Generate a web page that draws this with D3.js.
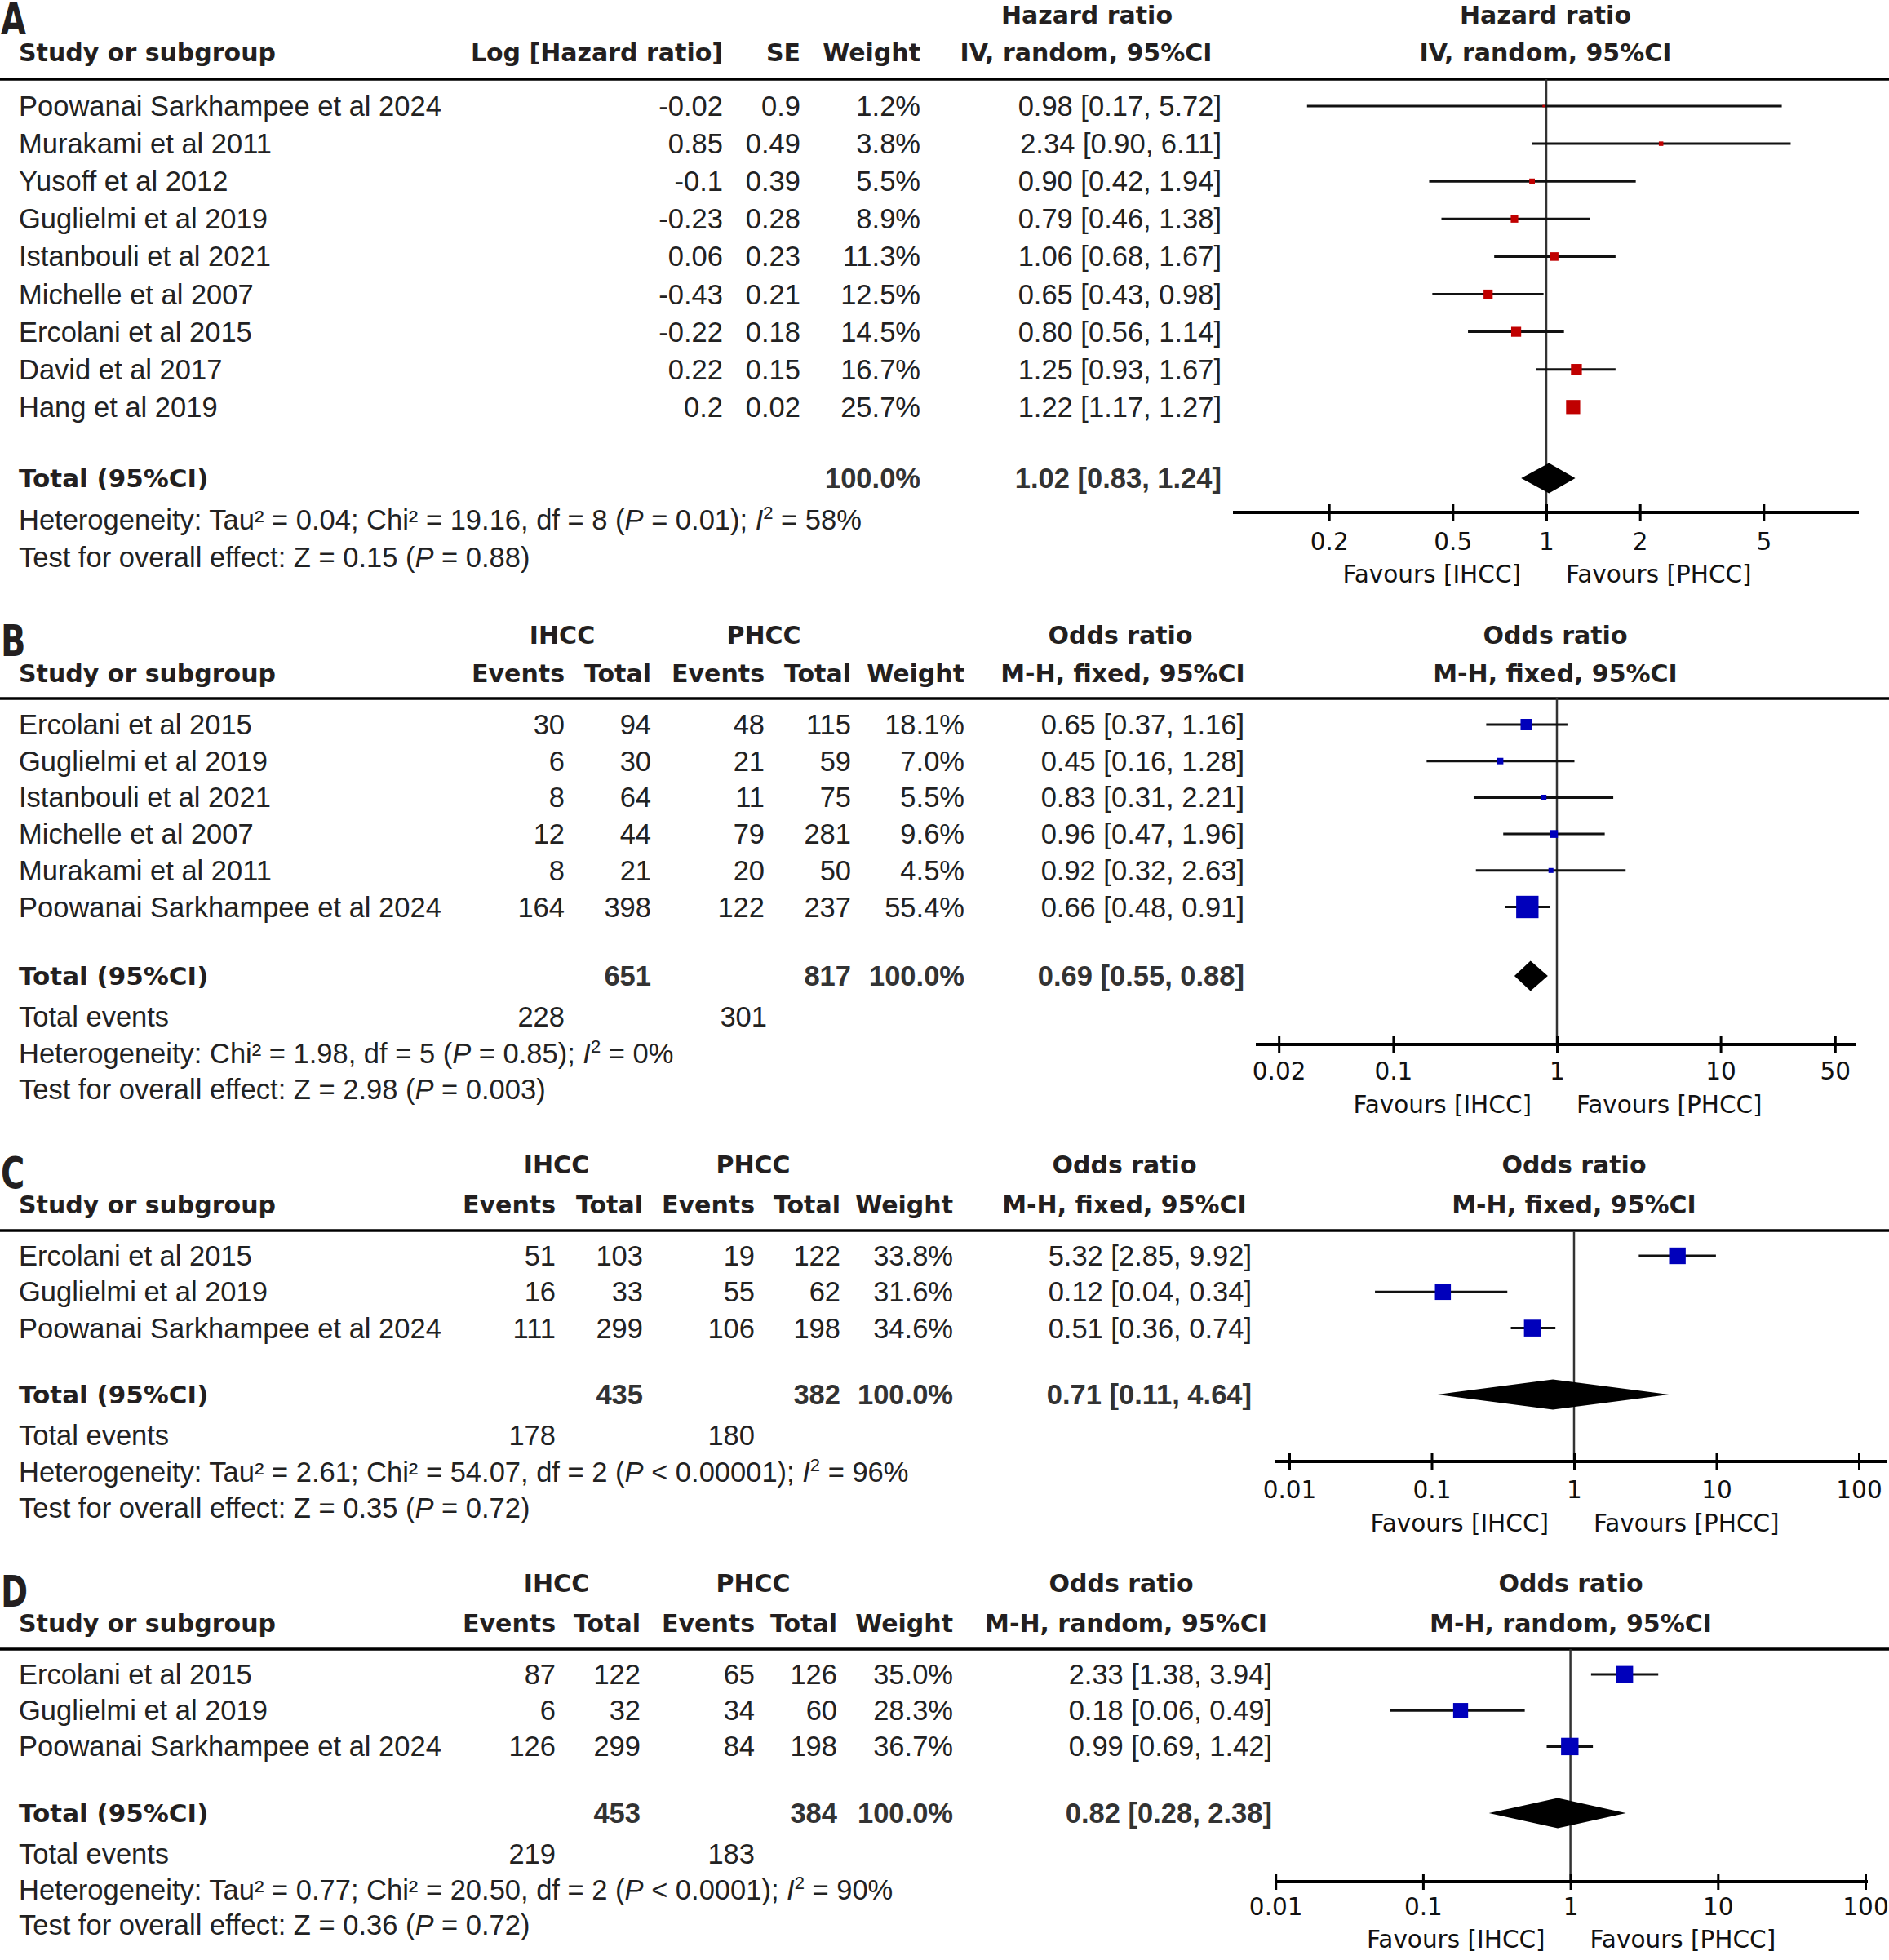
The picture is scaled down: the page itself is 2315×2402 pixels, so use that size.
<!DOCTYPE html>
<html>
<head>
<meta charset="utf-8">
<script src="https://cdn.jsdelivr.net/npm/d3@7"></script>
<style>
  body { margin: 0; background: #fff; }
  svg { display: block; }
  .bd { font-family: "Liberation Sans", Arial, sans-serif; font-size: 34.5px; fill: #222; }
  .bb { font-family: "Liberation Sans", Arial, sans-serif; font-size: 34.5px; font-weight: bold; fill: #333; }
  .hd { font-family: "DejaVu Sans", Verdana, sans-serif; font-size: 30px; font-weight: bold; fill: #231f20; }
  .tk { font-family: "DejaVu Sans", Verdana, sans-serif; font-size: 29.5px; fill: #111; }
</style>
</head>
<body>
<svg id="fig" width="2315" height="2402"></svg>
<script>
// A: overall survival, hazard ratio
const studiesA = ["Poowanai Sarkhampee et al 2024", "Murakami et al 2011", "Yusoff et al 2012", "Guglielmi et al 2019",
  "Istanbouli et al 2021", "Michelle et al 2007", "Ercolani et al 2015", "David et al 2017", "Hang et al 2019"];
const logHrA = [-0.02, 0.85, -0.1, -0.23, 0.06, -0.43, -0.22, 0.22, 0.2];
const seA = [0.9, 0.49, 0.39, 0.28, 0.23, 0.21, 0.18, 0.15, 0.02];
const weightA = [1.2, 3.8, 5.5, 8.9, 11.3, 12.5, 14.5, 16.7, 25.7];
const hrA = [0.98, 2.34, 0.90, 0.79, 1.06, 0.65, 0.80, 1.25, 1.22];
const hrLowA = [0.17, 0.90, 0.42, 0.46, 0.68, 0.43, 0.56, 0.93, 1.17];
const hrHighA = [5.72, 6.11, 1.94, 1.38, 1.67, 0.98, 1.14, 1.67, 1.27];
const totalA = [1.02, 0.83, 1.24];
const ticksA = [0.2, 0.5, 1, 2, 5];
const hetA = "Heterogeneity: Tau² = 0.04; Chi² = 19.16, df = 8 (*P* = 0.01); *I*^2^ = 58%";
const testA = "Test for overall effect: Z = 0.15 (*P* = 0.88)";

// B
const studiesB = ["Ercolani et al 2015", "Guglielmi et al 2019", "Istanbouli et al 2021", "Michelle et al 2007",
  "Murakami et al 2011", "Poowanai Sarkhampee et al 2024"];
const ihccEventsB = [30, 6, 8, 12, 8, 164];
const ihccTotalB = [94, 30, 64, 44, 21, 398];
const phccEventsB = [48, 21, 11, 79, 20, 122];
const phccTotalB = [115, 59, 75, 281, 50, 237];
const weightB = [18.1, 7.0, 5.5, 9.6, 4.5, 55.4];
const orB = [0.65, 0.45, 0.83, 0.96, 0.92, 0.66];
const orLowB = [0.37, 0.16, 0.31, 0.47, 0.32, 0.48];
const orHighB = [1.16, 1.28, 2.21, 1.96, 2.63, 0.91];
const totalB = [0.69, 0.55, 0.88];
const sumTotalsB = [651, 817];
const sumEventsB = [228, 301];
const ticksB = [0.02, 0.1, 1, 10, 50];
const hetB = "Heterogeneity: Chi² = 1.98, df = 5 (*P* = 0.85); *I*^2^ = 0%";
const testB = "Test for overall effect: Z = 2.98 (*P* = 0.003)";

// C
const studiesC = ["Ercolani et al 2015", "Guglielmi et al 2019", "Poowanai Sarkhampee et al 2024"];
const ihccEventsC = [51, 16, 111];
const ihccTotalC = [103, 33, 299];
const phccEventsC = [19, 55, 106];
const phccTotalC = [122, 62, 198];
const weightC = [33.8, 31.6, 34.6];
const orC = [5.32, 0.12, 0.51];
const orLowC = [2.85, 0.04, 0.36];
const orHighC = [9.92, 0.34, 0.74];
const totalC = [0.71, 0.11, 4.64];
const sumTotalsC = [435, 382];
const sumEventsC = [178, 180];
const ticksC = [0.01, 0.1, 1, 10, 100];
const hetC = "Heterogeneity: Tau² = 2.61; Chi² = 54.07, df = 2 (*P* < 0.00001); *I*^2^ = 96%";
const testC = "Test for overall effect: Z = 0.35 (*P* = 0.72)";

// D
const studiesD = ["Ercolani et al 2015", "Guglielmi et al 2019", "Poowanai Sarkhampee et al 2024"];
const ihccEventsD = [87, 6, 126];
const ihccTotalD = [122, 32, 299];
const phccEventsD = [65, 34, 84];
const phccTotalD = [126, 60, 198];
const weightD = [35.0, 28.3, 36.7];
const orD = [2.33, 0.18, 0.99];
const orLowD = [1.38, 0.06, 0.69];
const orHighD = [3.94, 0.49, 1.42];
const totalD = [0.82, 0.28, 2.38];
const sumTotalsD = [453, 384];
const sumEventsD = [219, 183];
const ticksD = [0.01, 0.1, 1, 10, 100];
const hetD = "Heterogeneity: Tau² = 0.77; Chi² = 20.50, df = 2 (*P* < 0.0001); *I*^2^ = 90%";
const testD = "Test for overall effect: Z = 0.36 (*P* = 0.72)";

const svg = d3.select("#fig");
const W = 2315;
const f2 = d3.format(".2f");
const pct = w => d3.format(".1f")(w) + "%";
const ciText = (e, l, h) => `${f2(e)} [${f2(l)}, ${f2(h)}]`;
// box side grows a bit faster than sqrt(weight), like RevMan output
const boxSize = d3.scalePow().exponent(0.6).domain([0, 100]).range([0, 39]);

// *x* -> italic, ^x^ -> superscript
function rich(sel, str) {
  const parts = str.split(/(\*[^*]+\*|\^[^^]+\^)/).filter(s => s);
  let up = false;
  parts.forEach(p => {
    if (p[0] === "*") {
      const t = sel.append("tspan").style("font-style", "italic").text(p.slice(1, -1));
      if (up) { t.attr("dy", 13); up = false; }
    } else if (p[0] === "^") {
      sel.append("tspan").attr("dy", -13).style("font-size", "22px").text(p.slice(1, -1));
      up = true;
    } else {
      const t = sel.append("tspan").text(p);
      if (up) { t.attr("dy", 13); up = false; }
    }
  });
}

function drawPanel(p) {
  const g = svg.append("g");
  const rowY = i => p.rowY0 + i * p.rowStep;

  g.append("text").attr("class", "hd")
    .attr("transform", `translate(1,${p.letterY}) scale(0.74,1)`)
    .attr("dy", "0.36em").style("font-size", "54px").text(p.letter);

  // column headers
  g.selectAll(".h1").data(p.head1).join("text").attr("class", "hd")
    .attr("x", d => d[1]).attr("y", p.head1Y).attr("dy", "0.36em")
    .attr("text-anchor", d => d[2]).text(d => d[0]);
  g.selectAll(".h2").data([["Study or subgroup", 23, "start"]].concat(p.head2)).join("text").attr("class", "hd")
    .attr("x", d => d[1]).attr("y", p.head2Y).attr("dy", "0.36em")
    .attr("text-anchor", d => d[2]).text(d => d[0]);
  g.append("line").attr("x1", 0).attr("x2", W).attr("y1", p.lineY).attr("y2", p.lineY)
    .attr("stroke", "#000").attr("stroke-width", 3.5);

  // study rows
  g.selectAll(".study").data(p.studies).join("text").attr("class", "bd")
    .attr("x", 23).attr("y", (d, i) => rowY(i)).attr("dy", "0.35em").text(d => d);
  p.cols.forEach(([vals, x]) => {
    g.append("g").selectAll("text").data(vals).join("text").attr("class", "bd")
      .attr("x", x).attr("y", (d, i) => rowY(i)).attr("dy", "0.35em")
      .attr("text-anchor", "end").text(d => d);
  });

  // total row
  g.append("text").attr("class", "hd").attr("x", 23).attr("y", p.totalY).attr("dy", "0.36em")
    .style("font-size", "31px").text("Total (95%CI)");
  g.selectAll(".tot").data(p.totalCells).join("text").attr("class", "bb")
    .attr("x", d => d[1]).attr("y", p.totalY).attr("dy", "0.35em")
    .attr("text-anchor", "end").text(d => d[0]);

  if (p.events) {
    g.append("text").attr("class", "bd").attr("x", 23).attr("y", p.eventsY).attr("dy", "0.35em").text("Total events");
    g.selectAll(".ev").data(p.events).join("text").attr("class", "bd")
      .attr("x", d => d[1]).attr("y", p.eventsY).attr("dy", "0.35em")
      .attr("text-anchor", "end").text(d => d[0]);
  }
  rich(g.append("text").attr("class", "bd").attr("x", 23).attr("y", p.hetY).attr("dy", "0.35em"), p.het);
  rich(g.append("text").attr("class", "bd").attr("x", 23).attr("y", p.testY).attr("dy", "0.35em"), p.test);

  // forest plot
  const x = d3.scaleLog().domain([0.01, 100]).range([p.xOne - 2 * p.dec, p.xOne + 2 * p.dec]);
  const n = p.est.length;

  g.append("line").attr("x1", x(1)).attr("x2", x(1)).attr("y1", p.lineY).attr("y2", p.axisY)
    .attr("stroke", "#333").attr("stroke-width", 2.5);

  g.append("g").selectAll("line").data(d3.range(n)).join("line")
    .attr("x1", i => x(p.lo[i])).attr("x2", i => x(p.hi[i]))
    .attr("y1", i => rowY(i)).attr("y2", i => rowY(i))
    .attr("stroke", "#111").attr("stroke-width", 3);

  g.append("g").selectAll("rect").data(d3.range(n)).join("rect")
    .attr("x", i => x(p.est[i]) - boxSize(p.weight[i]) / 2)
    .attr("y", i => rowY(i) - boxSize(p.weight[i]) / 2)
    .attr("width", i => boxSize(p.weight[i])).attr("height", i => boxSize(p.weight[i]))
    .attr("fill", p.color);

  const [te, tl, th] = p.total;
  const hh = 18.5;
  g.append("path")
    .attr("d", `M${x(tl)},${p.totalY}L${x(te)},${p.totalY - hh}L${x(th)},${p.totalY}L${x(te)},${p.totalY + hh}Z`)
    .attr("fill", "#000");

  // axis
  const ax = g.append("g").attr("transform", `translate(0,${p.axisY})`)
    .call(d3.axisBottom(x).tickValues(p.ticks).tickFormat(d => String(d)).tickSize(10));
  ax.select(".domain").remove();
  ax.attr("font-family", null).attr("font-size", null);
  ax.selectAll(".tick line").attr("y1", -10).attr("y2", 10).attr("stroke", "#000").attr("stroke-width", 3);
  ax.selectAll(".tick text").attr("class", "tk").attr("y", p.tickY - p.axisY).attr("dy", "0.36em");
  ax.insert("line", ":first-child").attr("x1", p.axisX[0]).attr("x2", p.axisX[1])
    .attr("stroke", "#000").attr("stroke-width", 4);

  g.append("text").attr("class", "tk").attr("x", x(1) - 31).attr("y", p.favY).attr("dy", "0.36em")
    .attr("text-anchor", "end").text("Favours [IHCC]");
  g.append("text").attr("class", "tk").attr("x", x(1) + 24).attr("y", p.favY).attr("dy", "0.36em")
    .attr("text-anchor", "start").text("Favours [PHCC]");
}

drawPanel({
  letter: "A", letterY: 23,
  head1Y: 18, head2Y: 64, lineY: 97,
  head1: [["Hazard ratio", 1332, "middle"], ["Hazard ratio", 1894, "middle"]],
  head2: [["Log [Hazard ratio]", 886, "end"], ["SE", 981, "end"], ["Weight", 1128, "end"],
    ["IV, random, 95%CI", 1331, "middle"], ["IV, random, 95%CI", 1894, "middle"]],
  rowY0: 130, rowStep: 46.1,
  studies: studiesA,
  cols: [[logHrA.map(String), 886], [seA.map(String), 981], [weightA.map(pct), 1128],
    [hrA.map((e, i) => ciText(e, hrLowA[i], hrHighA[i])), 1497]],
  totalY: 586,
  totalCells: [["100.0%", 1128], [ciText(...totalA), 1497]],
  hetY: 637, testY: 683, het: hetA, test: testA,
  est: hrA, lo: hrLowA, hi: hrHighA, weight: weightA, color: "#c00000", total: totalA,
  xOne: 1895, dec: 381, axisX: [1511, 2278], axisY: 628, tickY: 663, favY: 703, ticks: ticksA
});

drawPanel({
  letter: "B", letterY: 785,
  head1Y: 778, head2Y: 825, lineY: 856,
  head1: [["IHCC", 689, "middle"], ["PHCC", 936, "middle"], ["Odds ratio", 1373, "middle"], ["Odds ratio", 1906, "middle"]],
  head2: [["Events", 692, "end"], ["Total", 798, "end"], ["Events", 937, "end"], ["Total", 1043, "end"],
    ["Weight", 1182, "end"], ["M-H, fixed, 95%CI", 1376, "middle"], ["M-H, fixed, 95%CI", 1906, "middle"]],
  rowY0: 888, rowStep: 44.7,
  studies: studiesB,
  cols: [[ihccEventsB, 692], [ihccTotalB, 798], [phccEventsB, 937], [phccTotalB, 1043], [weightB.map(pct), 1182],
    [orB.map((e, i) => ciText(e, orLowB[i], orHighB[i])), 1525]],
  totalY: 1196,
  totalCells: [[sumTotalsB[0], 798], [sumTotalsB[1], 1043], ["100.0%", 1182], [ciText(...totalB), 1525]],
  events: [[sumEventsB[0], 692], [sumEventsB[1], 940]], eventsY: 1246,
  hetY: 1291, testY: 1335, het: hetB, test: testB,
  est: orB, lo: orLowB, hi: orHighB, weight: weightB, color: "#0000bb", total: totalB,
  xOne: 1908, dec: 200.6, axisX: [1539, 2274], axisY: 1280, tickY: 1312, favY: 1353, ticks: ticksB
});

drawPanel({
  letter: "C", letterY: 1437,
  head1Y: 1427, head2Y: 1476, lineY: 1508,
  head1: [["IHCC", 682, "middle"], ["PHCC", 923, "middle"], ["Odds ratio", 1378, "middle"], ["Odds ratio", 1929, "middle"]],
  head2: [["Events", 681, "end"], ["Total", 788, "end"], ["Events", 925, "end"], ["Total", 1030, "end"],
    ["Weight", 1168, "end"], ["M-H, fixed, 95%CI", 1378, "middle"], ["M-H, fixed, 95%CI", 1929, "middle"]],
  rowY0: 1539, rowStep: 44.3,
  studies: studiesC,
  cols: [[ihccEventsC, 681], [ihccTotalC, 788], [phccEventsC, 925], [phccTotalC, 1030], [weightC.map(pct), 1168],
    [orC.map((e, i) => ciText(e, orLowC[i], orHighC[i])), 1534]],
  totalY: 1709,
  totalCells: [[sumTotalsC[0], 788], [sumTotalsC[1], 1030], ["100.0%", 1168], [ciText(...totalC), 1534]],
  events: [[sumEventsC[0], 681], [sumEventsC[1], 925]], eventsY: 1759,
  hetY: 1804, testY: 1848, het: hetC, test: testC,
  est: orC, lo: orLowC, hi: orHighC, weight: weightC, color: "#0000bb", total: totalC,
  xOne: 1929, dec: 174.5, axisX: [1562, 2312], axisY: 1791, tickY: 1825, favY: 1866, ticks: ticksC
});

drawPanel({
  letter: "D", letterY: 1950,
  head1Y: 1940, head2Y: 1989, lineY: 2021,
  head1: [["IHCC", 682, "middle"], ["PHCC", 923, "middle"], ["Odds ratio", 1374, "middle"], ["Odds ratio", 1925, "middle"]],
  head2: [["Events", 681, "end"], ["Total", 785, "end"], ["Events", 925, "end"], ["Total", 1026, "end"],
    ["Weight", 1168, "end"], ["M-H, random, 95%CI", 1380, "middle"], ["M-H, random, 95%CI", 1925, "middle"]],
  rowY0: 2052, rowStep: 44.2,
  studies: studiesD,
  cols: [[ihccEventsD, 681], [ihccTotalD, 785], [phccEventsD, 925], [phccTotalD, 1026], [weightD.map(pct), 1168],
    [orD.map((e, i) => ciText(e, orLowD[i], orHighD[i])), 1559]],
  totalY: 2222,
  totalCells: [[sumTotalsD[0], 785], [sumTotalsD[1], 1026], ["100.0%", 1168], [ciText(...totalD), 1559]],
  events: [[sumEventsD[0], 681], [sumEventsD[1], 925]], eventsY: 2272,
  hetY: 2316, testY: 2359, het: hetD, test: testD,
  est: orD, lo: orLowD, hi: orHighD, weight: weightD, color: "#0000bb", total: totalD,
  xOne: 1924.6, dec: 180.7, axisX: [1562, 2289], axisY: 2306, tickY: 2336, favY: 2376, ticks: ticksD
});
</script>
</body>
</html>
